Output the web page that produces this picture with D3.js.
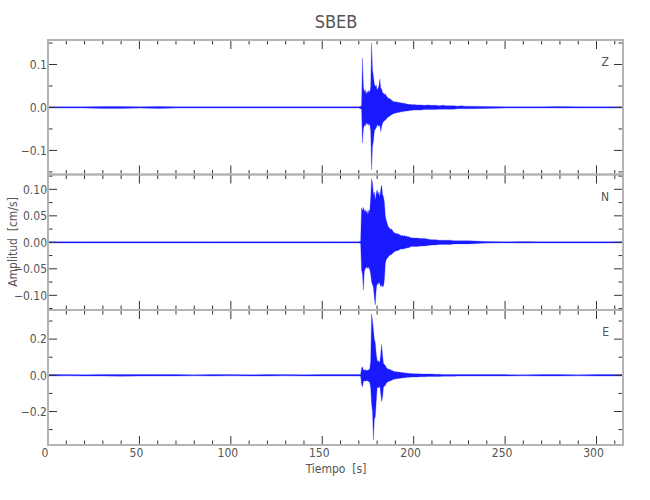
<!DOCTYPE html>
<html><head><meta charset="utf-8">
<script src="https://cdn.jsdelivr.net/npm/d3@7/dist/d3.min.js"></script>
<style>
body{margin:0;background:#fff;}
text{font-family:"DejaVu Sans Condensed","DejaVu Sans",sans-serif;font-stretch:condensed;fill:#555;}
</style></head>
<body><svg id="c" width="650" height="500"></svg>
<script>
// ---- data ----
const title = "SBEB";
const xLabel = "Tiempo  [s]";
const yLabel = "Amplitud  [cm/s]";
const components = ["Z", "N", "E"];
const xMajorTicks = [0, 50, 100, 150, 200, 250, 300];
const zTicks = [0.1, 0.0, -0.1];
const nTicks = [0.10, 0.05, 0.00, -0.05, -0.10];
const eTicks = [0.2, 0.0, -0.2];
const zTickLabels = ["0.1", "0.0", "\u22120.1"];
const nTickLabels = ["0.10", "0.05", "0.00", "\u22120.05", "\u22120.10"];
const eTickLabels = ["0.2", "0.0", "\u22120.2"];
const zMinorTicks = [0.15, 0.05, -0.05, -0.15];
const nMinorTicks = [0.125, 0.075, 0.025, -0.025, -0.075, -0.125];
const eMinorTicks = [0.3, 0.1, -0.1, -0.3];
const zDomain = [-0.156, 0.157];
const nDomain = [-0.1277, 0.128];
const eDomain = [-0.385, 0.361];
const xDomain = [0, 314.5];

// time bins (s) for the trace envelopes
const timeS = [0,10,20,30,40,50,60,70,80,90,100,110,120,130,140,150,160,170,
171,171.5,172,172.5,173,173.5,174,174.5,175,175.5,176,176.5,177,177.5,178,178.5,179,179.5,180,180.5,
181,181.5,182,182.5,183,183.5,184,184.5,185,185.5,186,186.5,187,187.5,188,188.5,189,189.5,190,190.5,
191,191.5,192,192.5,193,193.5,194,194.5,195,195.5,196,196.5,197,197.5,198,198.5,199,199.5,200,
202,204,206,208,210,212,214,216,218,220,222,224,226,228,230,
240,250,260,270,280,290,300,310,314.5];

// envelope maxima / minima per bin (cm/s)
const zHi = [0.0015,0.0015,0.0015,0.0025,0.0025,0.0015,0.0025,0.0015,0.0015,0.0015,0.0015,0.0015,0.0015,0.0015,0.0015,0.0015,0.0015,0.0015,
0.003,0.004,0.115,0.048,0.036,0.042,0.030,0.038,0.033,0.040,
0.035,0.048,0.150,0.088,0.072,0.055,0.048,0.052,0.040,0.045,
0.050,0.066,0.045,0.043,0.035,0.033,0.030,0.032,0.027,0.025,
0.022,0.020,0.021,0.018,0.017,0.015,0.014,0.013,0.014,0.012,
0.013,0.012,0.011,0.012,0.010,0.011,0.010,0.009,0.010,0.009,
0.008,0.008,0.007,0.008,0.007,0.007,0.007,0.006,0.007,
0.006,0.006,0.005,0.006,0.005,0.005,0.004,0.005,0.004,0.004,0.004,0.003,0.004,0.003,0.003,
0.0025,0.0015,0.0015,0.0015,0.0025,0.0015,0.0015,0.0015,0.0015];
const zLo = [-0.0015,-0.0015,-0.0015,-0.0025,-0.0025,-0.0015,-0.0025,-0.0015,-0.0015,-0.0015,-0.0015,-0.0015,-0.0015,-0.0015,-0.0015,-0.0015,-0.0015,-0.0015,
-0.003,-0.004,-0.083,-0.050,-0.040,-0.044,-0.035,-0.040,-0.036,-0.042,
-0.038,-0.055,-0.145,-0.090,-0.078,-0.055,-0.050,-0.048,-0.042,-0.040,
-0.045,-0.040,-0.056,-0.045,-0.036,-0.033,-0.031,-0.030,-0.027,-0.025,
-0.022,-0.021,-0.020,-0.018,-0.017,-0.016,-0.014,-0.014,-0.013,-0.013,
-0.012,-0.012,-0.011,-0.011,-0.010,-0.010,-0.010,-0.009,-0.009,-0.009,
-0.008,-0.008,-0.008,-0.007,-0.007,-0.007,-0.007,-0.006,-0.006,
-0.006,-0.006,-0.005,-0.005,-0.005,-0.005,-0.004,-0.004,-0.004,-0.004,-0.004,-0.003,-0.003,-0.003,-0.003,
-0.0025,-0.0015,-0.0015,-0.0015,-0.0015,-0.0015,-0.0015,-0.0015,-0.0015];

const nHi = [0.0012,0.0012,0.0012,0.0012,0.0012,0.0012,0.0012,0.0012,0.0012,0.0012,0.0012,0.0012,0.0012,0.0012,0.0012,0.0012,0.0012,0.0012,
0.002,0.065,0.060,0.066,0.058,0.062,0.055,0.060,0.052,0.061,
0.058,0.085,0.120,0.112,0.090,0.095,0.080,0.092,0.099,0.090,
0.095,0.085,0.100,0.108,0.090,0.086,0.075,0.050,0.042,0.036,
0.030,0.028,0.026,0.024,0.025,0.022,0.019,0.018,0.017,0.016,
0.017,0.015,0.016,0.013,0.014,0.012,0.013,0.012,0.013,0.011,
0.012,0.011,0.010,0.011,0.009,0.008,0.009,0.008,0.008,
0.008,0.007,0.007,0.006,0.005,0.005,0.004,0.004,0.004,0.004,0.003,0.003,0.003,0.003,0.003,
0.0015,0.0012,0.0015,0.0012,0.0012,0.0012,0.0012,0.0012,0.0012];
const nLo = [-0.0012,-0.0012,-0.0012,-0.0012,-0.0012,-0.0012,-0.0012,-0.0012,-0.0012,-0.0012,-0.0012,-0.0012,-0.0012,-0.0012,-0.0012,-0.0012,-0.0012,-0.0012,
-0.002,-0.052,-0.060,-0.090,-0.055,-0.050,-0.048,-0.046,-0.050,-0.046,
-0.052,-0.060,-0.075,-0.080,-0.085,-0.105,-0.118,-0.090,-0.077,-0.080,
-0.075,-0.078,-0.084,-0.080,-0.084,-0.083,-0.070,-0.040,-0.033,-0.030,
-0.028,-0.026,-0.024,-0.024,-0.022,-0.021,-0.019,-0.018,-0.017,-0.016,
-0.016,-0.015,-0.015,-0.013,-0.013,-0.012,-0.013,-0.012,-0.012,-0.011,
-0.011,-0.010,-0.010,-0.010,-0.009,-0.008,-0.008,-0.008,-0.008,
-0.008,-0.007,-0.007,-0.006,-0.005,-0.005,-0.004,-0.004,-0.004,-0.004,-0.003,-0.003,-0.003,-0.003,-0.003,
-0.0015,-0.0012,-0.0015,-0.0012,-0.0012,-0.0012,-0.0012,-0.0012,-0.0012];

const eHi = [0.004,0.004,0.003,0.005,0.005,0.004,0.005,0.004,0.003,0.004,0.004,0.003,0.004,0.004,0.003,0.004,0.004,0.004,
0.005,0.040,0.048,0.030,0.028,0.032,0.025,0.030,0.027,0.032,
0.035,0.080,0.340,0.300,0.250,0.200,0.180,0.120,0.085,0.075,
0.080,0.070,0.120,0.170,0.110,0.065,0.060,0.055,0.045,0.038,
0.035,0.032,0.034,0.030,0.027,0.025,0.022,0.020,0.021,0.019,
0.020,0.018,0.017,0.018,0.016,0.015,0.016,0.014,0.013,0.014,
0.012,0.011,0.012,0.010,0.011,0.010,0.009,0.010,0.009,
0.009,0.008,0.008,0.007,0.007,0.006,0.006,0.005,0.005,0.005,0.005,0.004,0.004,0.004,0.004,
0.004,0.004,0.003,0.004,0.004,0.003,0.004,0.004,0.004];
const eLo = [-0.004,-0.003,-0.004,-0.004,-0.005,-0.004,-0.004,-0.004,-0.003,-0.004,-0.003,-0.004,-0.004,-0.003,-0.004,-0.004,-0.004,-0.004,
-0.005,-0.050,-0.063,-0.035,-0.030,-0.033,-0.028,-0.032,-0.030,-0.035,
-0.040,-0.070,-0.160,-0.200,-0.357,-0.240,-0.230,-0.150,-0.072,-0.065,
-0.070,-0.060,-0.100,-0.145,-0.120,-0.065,-0.060,-0.055,-0.045,-0.038,
-0.036,-0.033,-0.032,-0.030,-0.027,-0.025,-0.022,-0.021,-0.020,-0.019,
-0.019,-0.018,-0.017,-0.016,-0.016,-0.015,-0.015,-0.014,-0.013,-0.013,
-0.012,-0.011,-0.011,-0.010,-0.010,-0.010,-0.009,-0.009,-0.009,
-0.009,-0.008,-0.008,-0.007,-0.007,-0.006,-0.006,-0.005,-0.005,-0.005,-0.005,-0.004,-0.004,-0.004,-0.004,
-0.004,-0.004,-0.003,-0.004,-0.004,-0.003,-0.004,-0.004,-0.004];

// ---- drawing ----
const svg = d3.select("#c");
const left = 48, right = 623;
const panelTops = [40, 174.5, 310];
const panelBots = [174.5, 310, 445];
const x = d3.scaleLinear().domain(xDomain).range([left, right]);
const xMinor = [10,20,30,40,60,70,80,90,110,120,130,140,160,170,180,190,210,220,230,240,260,270,280,290,310];

const panels = [
  {name: components[0], dom: zDomain, ticks: zTicks, labels: zTickLabels, minor: zMinorTicks, hi: zHi, lo: zLo},
  {name: components[1], dom: nDomain, ticks: nTicks, labels: nTickLabels, minor: nMinorTicks, hi: nHi, lo: nLo},
  {name: components[2], dom: eDomain, ticks: eTicks, labels: eTickLabels, minor: eMinorTicks, hi: eHi, lo: eLo}
];

const tickCol = "#333", frameCol = "#b3b3b3";
const fs = 12;

panels.forEach((p, i) => {
  const top = panelTops[i], bot = panelBots[i];
  const y = d3.scaleLinear().domain(p.dom).range([bot, top]);
  const g = svg.append("g");
  const clipId = "clip" + i;
  svg.append("clipPath").attr("id", clipId).append("rect")
    .attr("x", left).attr("y", top).attr("width", right - left).attr("height", bot - top);

  // trace envelope
  const data = timeS.map((t, k) => ({t, hi: p.hi[k], lo: p.lo[k]}));
  const area = d3.area().x(d => x(d.t)).y0(d => y(d.lo)).y1(d => y(d.hi));
  g.append("path").datum(data).attr("d", area)
    .attr("clip-path", `url(#${clipId})`)
    .attr("fill", "#0000ff").attr("fill-opacity", 0.9)
    .attr("stroke", "#2a2aff").attr("stroke-width", 0.3);

  // y ticks (left and right, inward)
  p.ticks.forEach(v => {
    g.append("line").attr("x1", left).attr("x2", left + 9).attr("y1", y(v)).attr("y2", y(v)).attr("stroke", tickCol);
    g.append("line").attr("x1", right).attr("x2", right - 9).attr("y1", y(v)).attr("y2", y(v)).attr("stroke", tickCol);
  });
  p.minor.forEach(v => {
    g.append("line").attr("x1", left).attr("x2", left + 4.5).attr("y1", y(v)).attr("y2", y(v)).attr("stroke", tickCol);
    g.append("line").attr("x1", right).attr("x2", right - 4.5).attr("y1", y(v)).attr("y2", y(v)).attr("stroke", tickCol);
  });
  p.ticks.forEach((v, k) => {
    g.append("text").attr("x", left - 1).attr("y", y(v)).attr("dy", "0.35em")
      .attr("text-anchor", "end").attr("font-size", fs).text(p.labels[k]);
  });

  // x ticks top and bottom (inward)
  xMajorTicks.forEach(v => {
    g.append("line").attr("x1", x(v)).attr("x2", x(v)).attr("y1", top).attr("y2", top + 9).attr("stroke", tickCol);
    g.append("line").attr("x1", x(v)).attr("x2", x(v)).attr("y1", bot).attr("y2", bot - 9).attr("stroke", tickCol);
  });
  xMinor.forEach(v => {
    g.append("line").attr("x1", x(v)).attr("x2", x(v)).attr("y1", top).attr("y2", top + 4.5).attr("stroke", tickCol);
    g.append("line").attr("x1", x(v)).attr("x2", x(v)).attr("y1", bot).attr("y2", bot - 4.5).attr("stroke", tickCol);
  });

  // frame
  g.append("rect").attr("x", left).attr("y", top).attr("width", right - left).attr("height", bot - top)
    .attr("fill", "none").attr("stroke", frameCol).attr("stroke-width", 2);

  // component label
  g.append("text").attr("x", 609).attr("y", top + 22).attr("dy", "0.35em")
    .attr("text-anchor", "end").attr("font-size", fs).text(p.name);
});

// x tick labels
xMajorTicks.forEach(v => {
  svg.append("text").attr("x", x(v) - 3).attr("y", 453).attr("dy", "0.35em")
    .attr("text-anchor", "middle").attr("font-size", fs).text(v);
});

svg.append("text").attr("x", 336).attr("y", 469).attr("dy", "0.35em")
  .attr("text-anchor", "middle").attr("font-size", fs).attr("xml:space", "preserve").text(xLabel);
svg.append("text").attr("transform", "translate(13,242) rotate(-90)").attr("dy", "0.35em")
  .attr("text-anchor", "middle").attr("font-size", fs).attr("xml:space", "preserve").text(yLabel);
svg.append("text").attr("x", 336).attr("y", 22).attr("dy", "0.35em")
  .attr("text-anchor", "middle").attr("font-size", 18).attr("fill", "#666").text(title);
</script></body></html>
